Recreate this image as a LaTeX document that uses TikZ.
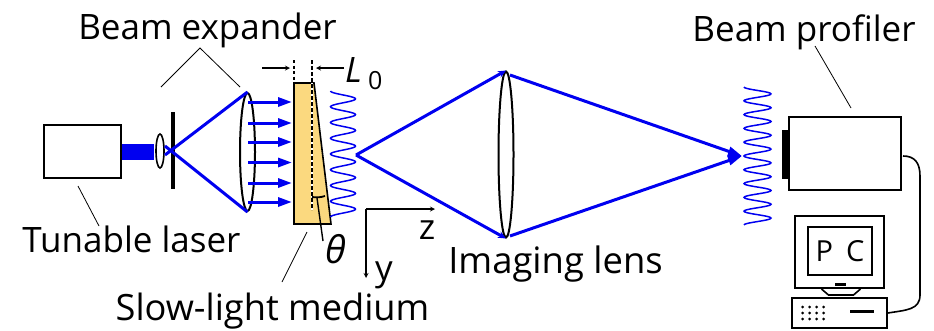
\documentclass[tikz,border=0pt]{standalone}
\usepackage{fontspec}
\setmainfont{Open Sans}
\usetikzlibrary{arrows,arrows.meta,positioning,calc,shapes.geometric}
\definecolor{beamblue}{RGB}{0,0,240}
\definecolor{mediumorange}{RGB}{251,217,127}

\begin{document}
\begin{tikzpicture}[
    x=1pt, y=-1pt,
    device/.style={rectangle, draw, line width=2pt, fill=white, inner sep=0pt},
    lens/.style={ellipse, draw, line width=2pt, inner sep=0pt},
    solid box/.style={rectangle, fill=black, inner sep=0pt},
    ray/.style={draw=beamblue, line width=3pt},
    rayarrow/.style={ray, -{Triangle[length=14pt,width=9pt]}},
    wave/.style={draw=beamblue, line width=1.5pt},
    leader/.style={draw, line width=0.8pt},
    dim/.style={->, >=stealth, line width=1.2pt},
    label/.style={font=\fontsize{35}{35}\selectfont, anchor=base, inner sep=0pt}
]
\useasboundingbox (0,0) rectangle (934,330);

% Laser and beam expander
\node[device, minimum width=77pt, minimum height=53pt] (laser) at (82.5,151.5) {};
\node[solid box, fill=beamblue, minimum width=32pt, minimum height=16pt, anchor=west] (beam) at (laser.east |- 0,152) {};
\node[lens, line width=1.6pt, minimum width=8pt, minimum height=34pt] (smalllens) at (160,151) {};
\node[solid box, minimum width=4pt, minimum height=77pt] (stop) at (173,150.5) {};
\node[lens, minimum width=15pt, minimum height=118pt] (biglens) at (247.5,152) {};
\coordinate (crossup) at (165,155);
\coordinate (crossdown) at (165,146);
\draw[ray] (crossup) -- (biglens.north);
\draw[ray] (crossdown) -- (biglens.south);

% Medium
\coordinate (mediumtl) at (294,83);
\coordinate (mediumtr) at (314,83);
\coordinate (mediumbr) at (331,224);
\coordinate (mediumbl) at (294,224);
\draw[fill=mediumorange, line width=1.6pt] (mediumtl) -- (mediumtr) -- (mediumbr) -- (mediumbl) -- cycle;
\draw[black, line width=1.8pt, dash pattern=on 3pt off 2.5pt] (294,60) -- (mediumbl);
\draw[white, line width=1.5pt] (312,83) -- (312,210);
\draw[black, line width=1.5pt, dash pattern=on 3.5pt off 2.5pt] (312,60) -- (312,210);
\draw[line width=1.8pt] (312,197) to[bend right=12] (325,196);

% Collimated arrows
\foreach \y/\name in {102/a,123/b,142/c,162.5/d,183/e,202/f} {
    \coordinate (start\name) at (248,\y);
    \coordinate (end\name) at (292,\y);
    \draw[rayarrow] (start\name) -- (end\name);
}

% Waves
\draw[wave] plot[domain=0:8, samples=161, smooth] ({343-12.5*cos(360*\x)}, {91+15.75*\x});
\draw[wave] plot[domain=0:10, samples=201, smooth] ({757.5-13.5*cos(360*\x)}, {87+13.8*\x});

% Imaging lens
\node[lens, minimum width=15pt, minimum height=166pt] (imglens) at (506,154.5) {};
\coordinate (focus) at (356,155);
\coordinate (exitup) at (510,75);
\coordinate (exitdown) at (510,236);
\coordinate (image) at (742,156);
\draw[ray, -{Stealth[length=8pt,width=7pt]}] (focus) -- (imglens.north);
\draw[ray, -{Stealth[length=8pt,width=7pt]}] (focus) -- (imglens.south);
\draw[rayarrow] (exitup) -- (image);
\draw[rayarrow] (exitdown) -- (image);

% Profiler and PC
\node[device, minimum width=112pt, minimum height=73pt] (profiler) at (845,153.5) {};
\node[solid box, minimum width=7pt, minimum height=49pt, anchor=east] (plate) at (789,154.5) {};
\node[device, minimum width=89pt, minimum height=72pt] (monitor) at (839.5,252) {};
\node[device, line width=1.8pt, minimum width=64pt, minimum height=48pt, font=\fontsize{29}{29}\selectfont] (screen) at (840,251) {P\hspace{13pt}C};
\draw[line width=1.6pt] ($(monitor.south)+(-18,0)$) -- ++(7,6) -- ++(25,0) -- ++(7,-6);
\node[solid box, minimum width=11pt, minimum height=3.5pt] (button) at (840,284.5) {};
\node[device, minimum width=95pt, minimum height=30pt] (computer) at (839.5,313) {};
\foreach \x in {0,1,2,3} \foreach \y in {0,1,2}
    \fill (802.5+\x*7,307+\y*6) circle (1.5pt);
\node[solid box, minimum width=24pt, minimum height=3.5pt] (slot) at (862,311.5) {};
\coordinate (cablestart) at (903,156);
\draw[line width=1.6pt] (cablestart) .. controls (914,156) and (920,162) .. (920,176) -- (920,295) .. controls (920,310) and (906,310) .. (computer.east);

% Axes
\coordinate (origin) at (366,209);
\coordinate (zend) at (435,209);
\coordinate (yend) at (366,278);
\draw[dim] (origin) -- (zend);
\draw[dim] (origin) -- (yend);
\node[label] (zlabel) at (427,239) {z};
\node[label] (ylabel) at (384,280) {y};
\node[label, font=\fontsize{38}{38}\selectfont\itshape] (thetalabel) at (336,263) {θ};

% Width of the medium
\coordinate (lleft) at (262,68);
\coordinate (lright) at (344,68);
\draw[dim] (lleft) -- (290,68);
\draw[dim] (lright) -- (316,68);
\node[label, font=\fontsize{35}{35}\selectfont\itshape, anchor=base west] (length) at (345,82) {L};
\node[label, font=\fontsize{25}{25}\selectfont, anchor=base west] (lengthsub) at (368,89) {0};

% Labels
\node[label] (expanderlabel) at (207.5,39) {Beam expander};
\node[label] (laserlabel) at (131.5,252) {Tunable laser};
\node[label, font=\fontsize{36.2}{36}\selectfont] (mediumlabel) at (272.5,320) {Slow-light medium};
\node[label, font=\fontsize{36.4}{36}\selectfont] (imglabel) at (555.5,273) {Imaging lens};
\node[label] (profilerlabel) at (804,41) {Beam profiler};

% Leaders
\coordinate (apex) at (200,48);
\draw[leader] (161,87) -- (apex) -- (240,87);
\draw[leader] (78,186) -- (99,226);
\draw[leader] (307,232) -- (282,282);
\draw[leader] (815,46) -- (851,108);
\draw[line width=1.4pt] (317,198) -- (323,241);

\end{tikzpicture}
\end{document}
